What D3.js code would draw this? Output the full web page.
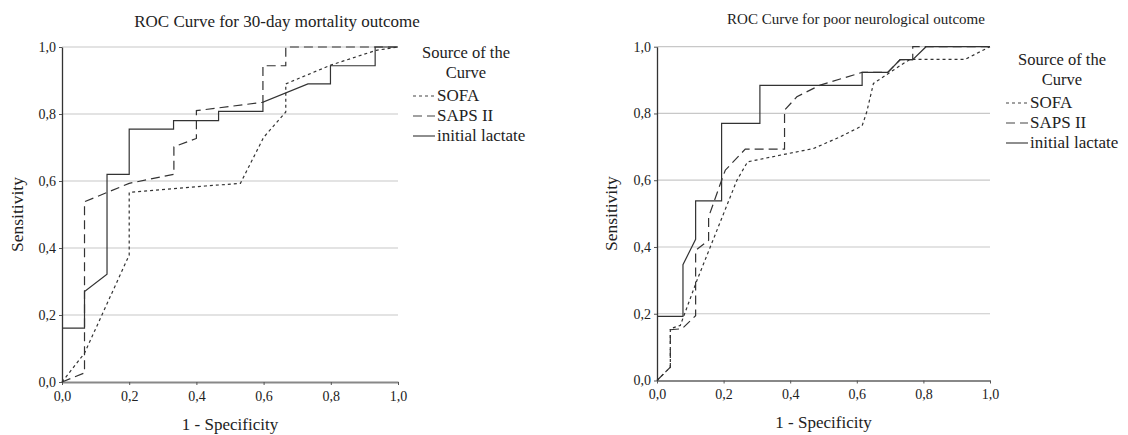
<!DOCTYPE html>
<html>
<head>
<meta charset="utf-8">
<script src="https://cdn.jsdelivr.net/npm/d3@7"></script>
<style>
  html, body { margin: 0; padding: 0; background: #fff; }
  svg { display: block; font-family: "Liberation Serif", "Times New Roman", serif; }
</style>
</head>
<body>
<svg id="chart" width="1128" height="435"></svg>
<script>
// ---------- DATA ----------
const tickValues = [0, 0.2, 0.4, 0.6, 0.8, 1.0];
const seriesNames = ["SOFA", "SAPS II", "initial lactate"];
const titles = ["ROC Curve for 30-day mortality outcome", "ROC Curve for poor neurological outcome"];

// 30-day mortality: [1 - specificity, sensitivity]
const mortSofa = [[0,0],[0.067,0.086],[0.2,0.379],[0.2,0.566],[0.426,0.585],[0.531,0.593],[0.6,0.73],[0.666,0.806],[0.666,0.89],[0.8,0.946],[0.935,0.99],[1,1]];
const mortSaps = [[0,0],[0.067,0.027],[0.067,0.538],[0.2,0.593],[0.333,0.62],[0.333,0.702],[0.4,0.727],[0.4,0.81],[0.598,0.835],[0.598,0.944],[0.666,0.944],[0.666,1],[1,1]];
const mortLact = [[0,0.161],[0.067,0.161],[0.067,0.27],[0.134,0.322],[0.134,0.62],[0.2,0.62],[0.2,0.755],[0.332,0.755],[0.332,0.78],[0.466,0.78],[0.466,0.808],[0.598,0.808],[0.598,0.835],[0.732,0.89],[0.799,0.89],[0.799,0.944],[0.932,0.944],[0.932,1],[1,1]];

// poor neurological outcome
const neuroSofa = [[0,0],[0.04,0.04],[0.04,0.155],[0.07,0.165],[0.12,0.3],[0.16,0.4],[0.2,0.5],[0.24,0.6],[0.272,0.655],[0.38,0.677],[0.47,0.695],[0.55,0.73],[0.616,0.763],[0.63,0.805],[0.65,0.89],[0.695,0.92],[0.74,0.95],[0.76,0.962],[0.925,0.962],[1,1]];
const neuroSaps = [[0,0],[0.04,0.04],[0.04,0.152],[0.075,0.155],[0.116,0.194],[0.116,0.39],[0.155,0.42],[0.155,0.49],[0.194,0.6],[0.205,0.63],[0.265,0.693],[0.383,0.693],[0.383,0.81],[0.42,0.85],[0.49,0.885],[0.616,0.923],[0.693,0.923],[0.73,0.961],[0.768,0.961],[0.768,1],[1,1]];
const neuroLact = [[0,0.192],[0.078,0.192],[0.078,0.347],[0.116,0.423],[0.116,0.538],[0.194,0.538],[0.194,0.77],[0.309,0.77],[0.309,0.884],[0.616,0.884],[0.616,0.923],[0.693,0.923],[0.73,0.961],[0.768,0.961],[0.808,1],[1,1]];

// ---------- DRAW ----------
const svg = d3.select("#chart");
const fmt = d => d.toFixed(1).replace(".", ",");
const dashes = ["3,3", "9,5", null];

const panels = [
  { series: [mortSofa, mortSaps, mortLact], title: titles[0], titleSize: 17,
    x0: 62, x1: 398, y0: 382, y1: 47, titleX: 277, titleY: 27,
    yTitleX: 23, xTitleY: 430, legX: 413, legTitleX: 466, legY: 60 },
  { series: [neuroSofa, neuroSaps, neuroLact], title: titles[1], titleSize: 15,
    x0: 657, x1: 990, y0: 380.5, y1: 46.7, titleX: 856, titleY: 24,
    yTitleX: 617, xTitleY: 428, legX: 1006, legTitleX: 1062, legY: 67 }
];

panels.forEach(p => {
  const x = d3.scaleLinear().domain([0, 1]).range([p.x0, p.x1]);
  const y = d3.scaleLinear().domain([0, 1]).range([p.y0, p.y1]);
  const g = svg.append("g");

  // grid
  g.append("g").selectAll("line").data(tickValues.slice(1)).join("line")
    .attr("x1", p.x0).attr("x2", p.x1)
    .attr("y1", d => y(d)).attr("y2", d => y(d))
    .attr("stroke", "#c8c8c8").attr("stroke-width", 1.2);

  // axes
  const ax = g.append("g").attr("transform", `translate(0,${p.y0})`)
    .call(d3.axisBottom(x).tickValues(tickValues).tickFormat(fmt).tickSize(3).tickSizeOuter(0));
  const ay = g.append("g").attr("transform", `translate(${p.x0},0)`)
    .call(d3.axisLeft(y).tickValues(tickValues).tickFormat(fmt).tickSize(3).tickSizeOuter(0));
  [ax, ay].forEach(a => {
    a.selectAll("text").attr("font-family", "Liberation Serif").attr("font-size", 14).attr("fill", "#222");
    a.selectAll(".tick line").attr("stroke", "#555");
  });
  ax.select(".domain").attr("stroke", "#888").attr("stroke-width", 2);
  ay.select(".domain").attr("stroke", "#333").attr("stroke-width", 1.3);
  ax.selectAll("text").attr("dy", "0.9em");

  // lines
  const line = d3.line().x(d => x(d[0])).y(d => y(d[1]));
  p.series.forEach((s, i) => {
    g.append("path").datum(s).attr("d", line)
      .attr("fill", "none").attr("stroke", "#333").attr("stroke-width", 1.2)
      .attr("stroke-dasharray", dashes[i]);
  });

  // titles
  g.append("text").attr("x", p.titleX).attr("y", p.titleY).attr("text-anchor", "middle")
    .attr("font-size", p.titleSize).attr("fill", "#222").text(p.title);
  g.append("text").attr("x", (p.x0 + p.x1) / 2).attr("y", p.xTitleY).attr("text-anchor", "middle")
    .attr("font-size", 17).attr("fill", "#222").text("1 - Specificity");
  g.append("text").attr("transform", `translate(${p.yTitleX},${(p.y0 + p.y1) / 2}) rotate(-90)`)
    .attr("text-anchor", "middle").attr("font-size", 17.5).attr("fill", "#222").text("Sensitivity");

  // legend
  const lg = g.append("g");
  lg.append("text").attr("x", p.legTitleX).attr("y", p.legY - 2).attr("text-anchor", "middle")
    .attr("font-size", 16.5).attr("fill", "#222").text("Source of the");
  lg.append("text").attr("x", p.legTitleX).attr("y", p.legY + 18).attr("text-anchor", "middle")
    .attr("font-size", 16.5).attr("fill", "#222").text("Curve");
  seriesNames.forEach((n, i) => {
    const yy = p.legY + 41 + i * 20;
    lg.append("line").attr("x1", p.legX).attr("x2", p.legX + 22)
      .attr("y1", yy - 5).attr("y2", yy - 5)
      .attr("stroke", "#444").attr("stroke-width", 1.2).attr("stroke-dasharray", dashes[i]);
    lg.append("text").attr("x", p.legX + 24).attr("y", yy)
      .attr("font-size", 17).attr("fill", "#222").text(n);
  });
});
</script>
</body>
</html>
